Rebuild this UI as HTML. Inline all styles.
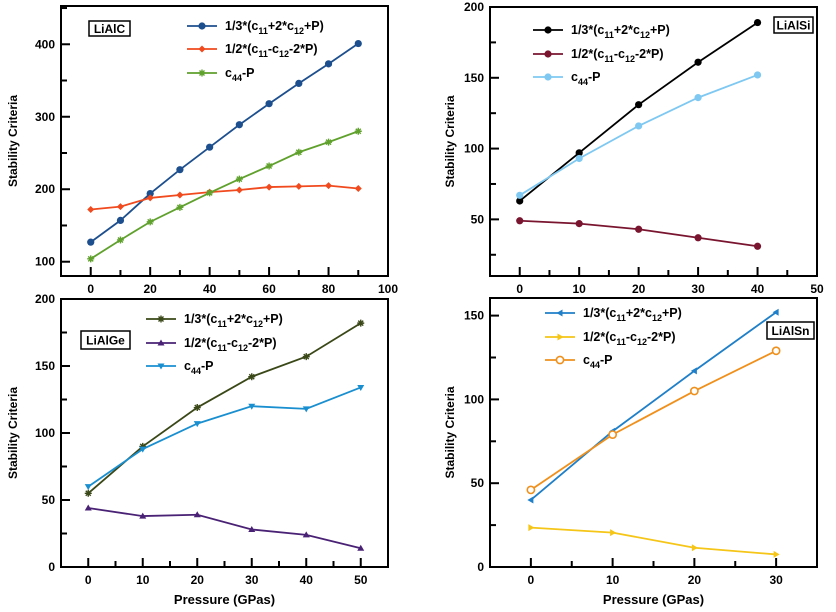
<!DOCTYPE html>
<html><head><meta charset="utf-8"><style>
html,body{margin:0;padding:0;background:#fff;}
svg{display:block;font-family:"Liberation Sans",Arial,sans-serif;font-weight:bold;}
</style></head><body>
<svg id="chart" width="836" height="612" viewBox="0 0 836 612" xmlns="http://www.w3.org/2000/svg"></svg>
<script>
const labels = ["1/3*(c11+2*c12+P)", "1/2*(c11-c12-2*P)", "c44-P"];
const pressC = [0,10,20,30,40,50,60,70,80,90];
const c_s1 = [127,157,194,227,258,289,318,346,373,401];
const c_s2 = [172,176,188,192,196,199,203,204,205,201];
const c_s3 = [104,130,155,175,195,214,232,251,265,280];
const pressSi = [0,10,20,30,40];
const si_s1 = [63,97,131,161,189];
const si_s2 = [49,47,43,37,31];
const si_s3 = [67,93,116,136,152];
const pressGe = [0,10,20,30,40,50];
const ge_s1 = [55,90,119,142,157,182];
const ge_s2 = [44,38,39,28,24,14];
const ge_s3 = [60,88,107,120,118,134];
const pressSn = [0,10,20,30];
const sn_s1 = [40,81,117,152];
const sn_s2 = [23.5,20.5,11.5,7.5];
const sn_s3 = [46,79,105,129];
const ticksC_x = [0,20,40,60,80,100], ticksC_y=[100,200,300,400];
const ticksSi_x = [0,10,20,30,40,50], ticksSi_y=[50,100,150,200];
const ticksGe_x = [0,10,20,30,40,50], ticksGe_y=[0,50,100,150,200];
const ticksSn_x = [0,10,20,30], ticksSn_y=[0,50,100,150];

const NS="http://www.w3.org/2000/svg";
const svg=document.getElementById('chart');
function mk(tag,attrs,parent){const e=document.createElementNS(NS,tag);for(const k in attrs)e.setAttribute(k,attrs[k]);(parent||svg).appendChild(e);return e;}

function marker(g,type,x,y,color){
  let m;
  if(type==='circle'){m=mk('circle',{cx:x,cy:y,r:3.6,fill:color},g);}
  else if(type==='ocircle'){m=mk('circle',{cx:x,cy:y,r:3.6,fill:'#fff',stroke:color,'stroke-width':1.6},g);}
  else if(type==='diamond'){m=mk('polygon',{points:`${x},${y-3.5} ${x+3.5},${y} ${x},${y+3.5} ${x-3.5},${y}`,fill:color},g);}
  else if(type==='star'){m=mk('path',{d:`M${x-3.5} ${y}H${x+3.5}M${x} ${y-3.5}V${y+3.5}M${x-2.5} ${y-2.5}L${x+2.5} ${y+2.5}M${x-2.5} ${y+2.5}L${x+2.5} ${y-2.5}`,stroke:color,'stroke-width':1.4,fill:'none'},g);}
  else if(type==='tup'){m=mk('polygon',{points:`${x},${y-3.5} ${x+3.5},${y+2.5} ${x-3.5},${y+2.5}`,fill:color},g);}
  else if(type==='tdown'){m=mk('polygon',{points:`${x},${y+3.5} ${x+3.5},${y-2.5} ${x-3.5},${y-2.5}`,fill:color},g);}
  else if(type==='tleft'){m=mk('polygon',{points:`${x-3.5},${y} ${x+2.5},${y-3.5} ${x+2.5},${y+3.5}`,fill:color},g);}
  else if(type==='tright'){m=mk('polygon',{points:`${x+3.5},${y} ${x-2.5},${y-3.5} ${x-2.5},${y+3.5}`,fill:color},g);}
  
  
}

function legendLabel(g,x,y,i){
  const t=mk('text',{x:x,y:y+4,'font-size':12.5,fill:'#000'},g);
  
  
  const parts = i===0?[["1/3*(c",0],["11",1],["+2*c",0],["12",1],["+P)",0]]:
                i===1?[["1/2*(c",0],["11",1],["-c",0],["12",1],["-2*P)",0]]:[["c",0],["44",1],["-P",0]];
  let prevSub=0;
  parts.forEach(p=>{const ts=mk('tspan',{},t);if(p[1]){ts.setAttribute('font-size',9);ts.setAttribute('dy',4);}else if(prevSub){ts.setAttribute('dy',-4);}ts.textContent=p[0];prevSub=p[1];});
}

function panel(o){
  const g=mk('g',{});
  
  
  const X=v=>o.L+(v-o.x0)/(o.x1-o.x0)*(o.R-o.L);
  const Y=v=>o.B-(v-o.y0)/(o.y1-o.y0)*(o.B-o.T);
  const fr=mk('rect',{x:o.L,y:o.T,width:o.R-o.L,height:o.B-o.T,fill:'none',stroke:'#000','stroke-width':2},g);
  
  
  for(let v=o.xt0;v<=o.x1+1e-9;v+=o.xminor){
    const major=o.xticks.includes(v);
    const ln=mk('line',{x1:X(v),x2:X(v),y1:o.B,y2:o.B-(major?9:6),stroke:'#000','stroke-width':2},g);
    
    
  }
  o.xticks.forEach(v=>{const t=mk('text',{x:X(v),y:o.B+17,'text-anchor':'middle','font-size':12},g);t.textContent=v;
    
    });
  for(let v=o.yt0;v<=o.y1+1e-9;v+=o.yminor){
    const major=o.yticks.includes(v);
    const ln=mk('line',{x1:o.L,x2:o.L+(major?9:6),y1:Y(v),y2:Y(v),stroke:'#000','stroke-width':2},g);
    
    
  }
  o.yticks.forEach(v=>{const t=mk('text',{x:o.L-6,y:Y(v)+4,'text-anchor':'end','font-size':12},g);t.textContent=v;
    
    });
  const yt=mk('text',{x:o.ytx,y:(o.T+o.B)/2,'text-anchor':'middle','font-size':12,transform:`rotate(-90 ${o.ytx} ${(o.T+o.B)/2})`},g);
  yt.textContent='Stability Criteria';
  
  
  if(o.xtitle){const xt=mk('text',{x:(o.L+o.R)/2,y:604,'text-anchor':'middle','font-size':13},g);xt.textContent='Pressure (GPas)';
    
    }
  o.series.forEach((s,i)=>{
    const pts=o.xs.map((x,j)=>X(x)+','+Y(s.v[j])).join(' ');
    const pl=mk('polyline',{points:pts,fill:'none',stroke:s.c,'stroke-width':1.8},g);
    
    
    o.xs.forEach((x,j)=>marker(g,s.m,X(x),Y(s.v[j]),s.c));
    const ly=o.legY[i];
    const ll=mk('line',{x1:o.legX,x2:o.legX+30,y1:ly,y2:ly,stroke:s.c,'stroke-width':1.8},g);
    
    
    marker(g,s.m,o.legX+15,ly,s.c);
    legendLabel(g,o.legX+38,ly,i);
  });
  const b=o.box;
  const br=mk('rect',{x:b[0],y:b[1],width:b[2],height:b[3],fill:'#fff',stroke:'#000','stroke-width':1.5},g);
  
  
  const bt=mk('text',{x:b[0]+b[2]/2,y:b[1]+b[3]/2+4.5,'text-anchor':'middle','font-size':12},g);
  bt.textContent=o.label;
  
  
}

panel({name:'panel-lialc',L:61,R:388,T:6,B:276,x0:-10,x1:100,y0:80.3,y1:452.8,
  xticks:ticksC_x,xt0:0,xminor:10,yticks:ticksC_y,yt0:100,yminor:50,ytx:17,
  xs:pressC,series:[{v:c_s1,c:'#1d4f8e',m:'circle'},{v:c_s2,c:'#f04a1e',m:'diamond'},{v:c_s3,c:'#5fa12c',m:'star'}],
  legX:187,legY:[26,49,73],box:[89,21,41,15],label:'LiAlC'});
panel({name:'panel-lialsi',L:490,R:817,T:7,B:276,x0:-5,x1:50,y0:10,y1:200,
  xticks:ticksSi_x,xt0:0,xminor:5,yticks:ticksSi_y,yt0:25,yminor:25,ytx:454,
  xs:pressSi,series:[{v:si_s1,c:'#000000',m:'circle'},{v:si_s2,c:'#7a1530',m:'circle'},{v:si_s3,c:'#7ec8f2',m:'circle'}],
  legX:533,legY:[30,54,77],box:[774,17,39,16],label:'LiAlSi'});
panel({name:'panel-lialge',L:61,R:388,T:299,B:567,x0:-5,x1:55,y0:0,y1:200,
  xticks:ticksGe_x,xt0:0,xminor:5,yticks:ticksGe_y,yt0:0,yminor:25,ytx:17,xtitle:true,
  xs:pressGe,series:[{v:ge_s1,c:'#3a4818',m:'star'},{v:ge_s2,c:'#4a2275',m:'tup'},{v:ge_s3,c:'#1a8fd0',m:'tdown'}],
  legX:146,legY:[319,343,366],box:[81,331,49,18],label:'LiAlGe'});
panel({name:'panel-lialsn',L:490,R:817,T:298,B:567,x0:-5,x1:35,y0:0,y1:160.5,
  xticks:ticksSn_x,xt0:0,xminor:5,yticks:ticksSn_y,yt0:0,yminor:25,ytx:454,xtitle:true,
  xs:pressSn,series:[{v:sn_s1,c:'#1f7fc8',m:'tleft'},{v:sn_s2,c:'#f5c518',m:'tright'},{v:sn_s3,c:'#f0901c',m:'ocircle'}],
  legX:545,legY:[313,337,360],box:[767,322,47,17],label:'LiAlSn'});
</script>
</body></html>
